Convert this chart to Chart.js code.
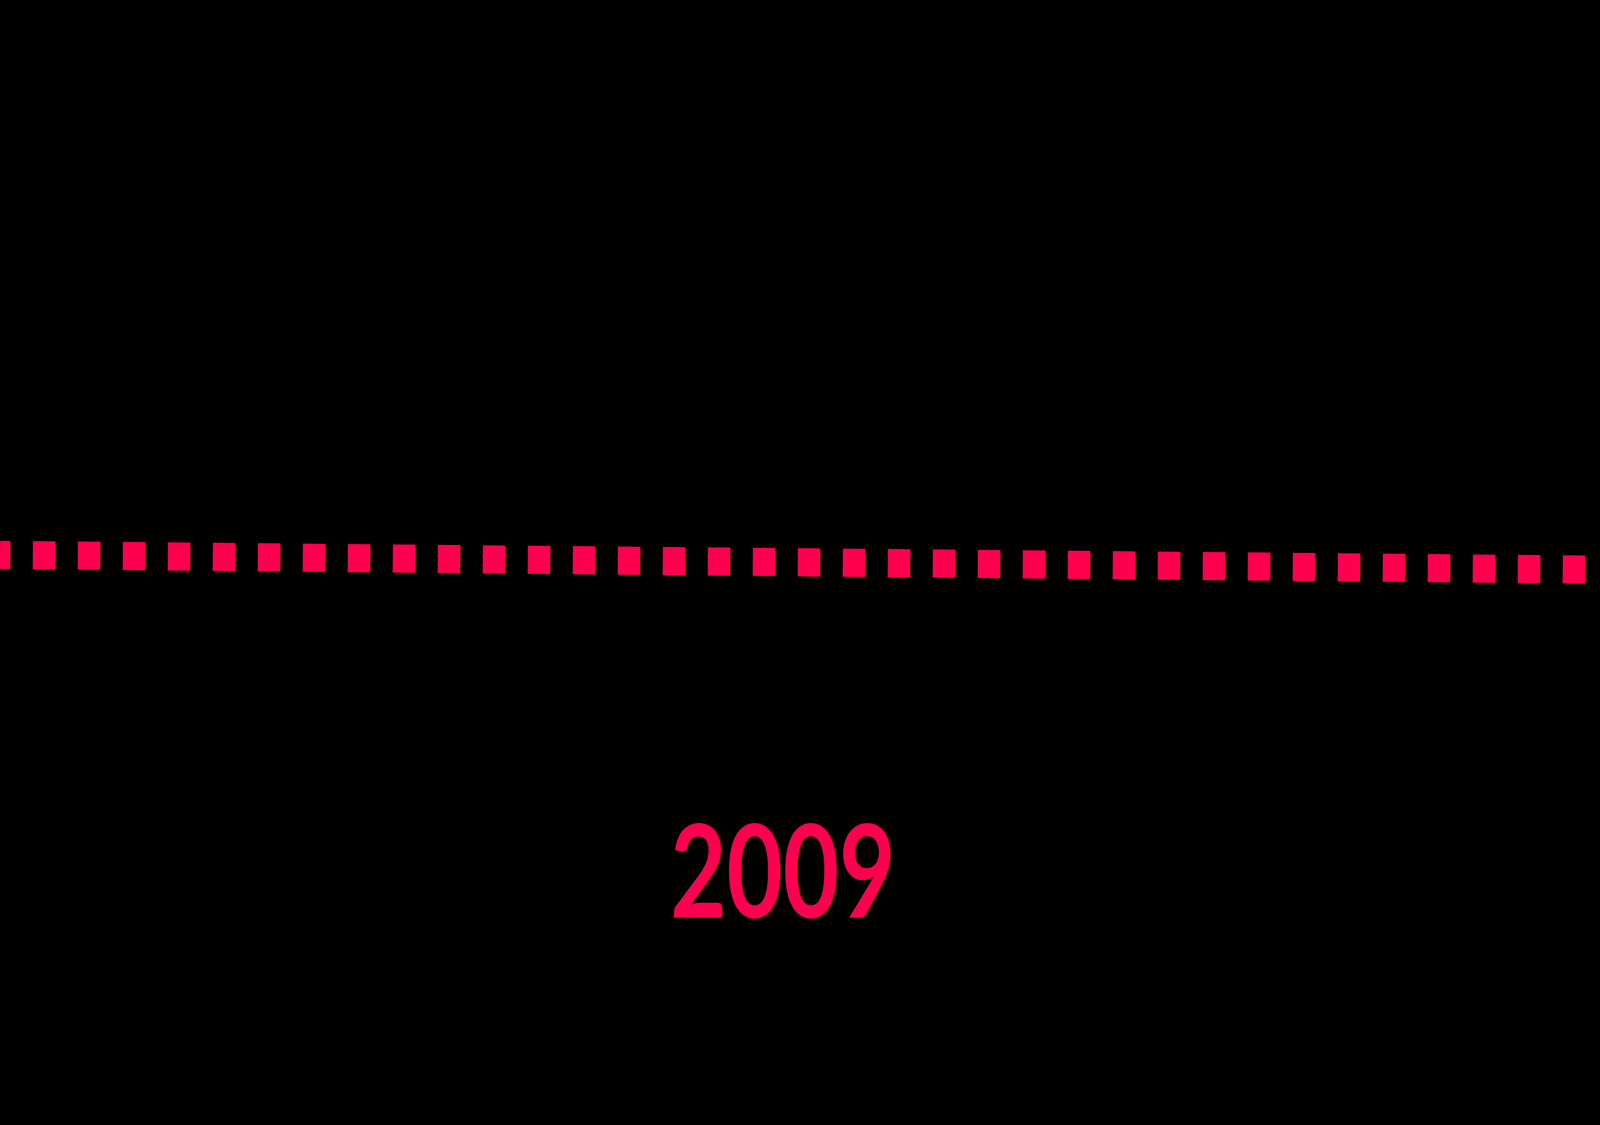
<!DOCTYPE html>
<html>
<head>
<meta charset="utf-8">
<script src="https://cdn.jsdelivr.net/npm/chart.js@4"></script>
<style>
    html, body { margin: 0; padding: 0; background: #000; overflow: hidden; }
    #wrap { width: 100vw; height: 100vh; position: relative; }
</style>
</head>
<body>
<div id="wrap"><canvas id="lineChart"></canvas></div>
<script>
// values
const years = ["2008", "2009"];
const values = [50.68, 49.36];
const yearLabel = "2009";
const lineColor = "#ff0050";

// the picture was measured at 5120 x 2880, sizes get scaled to the real canvas
const REF_W = 5120;
const REF_H = 2880;

// big year caption under the line
const yearCaption = {
    id: "yearCaption",
    afterDraw(chart) {
        const ctx = chart.ctx;
        const kx = chart.width / REF_W;
        const ky = chart.height / REF_H;
        ctx.save();
        ctx.translate(chart.width * 2505 / REF_W, chart.height * 2349 / REF_H);
        ctx.scale(0.938 * kx / ky, 1);
        ctx.font = `700 ${331 * ky}px Lato`;
        ctx.fillStyle = lineColor;
        ctx.textAlign = "center";
        ctx.textBaseline = "alphabetic";
        ctx.fillText(yearLabel, 0, 0);
        ctx.restore();
    }
};

document.addEventListener("DOMContentLoaded", () => {
    const canvas = document.querySelector("#lineChart");
    const kx = window.innerWidth / REF_W;
    const ky = window.innerHeight / REF_H;

    new Chart(canvas, {
        type: "line",
        data: {
            labels: years,
            datasets: [{
                data: values,
                borderColor: lineColor,
                borderWidth: 72 * ky,
                borderDash: [72 * kx, 72 * kx],
                borderDashOffset: 39 * kx,
                borderCapStyle: "butt",
                pointRadius: 0,
                tension: 0,
                fill: false
            }]
        },
        options: {
            responsive: true,
            maintainAspectRatio: false,
            animation: false,
            layout: { padding: 0 },
            scales: {
                x: { display: false, offset: false },
                y: { display: false, min: 0, max: 100 }
            },
            plugins: {
                legend: { display: false },
                tooltip: { enabled: false },
                title: { display: false }
            }
        },
        plugins: [yearCaption]
    });
});
</script>
</body>
</html>
